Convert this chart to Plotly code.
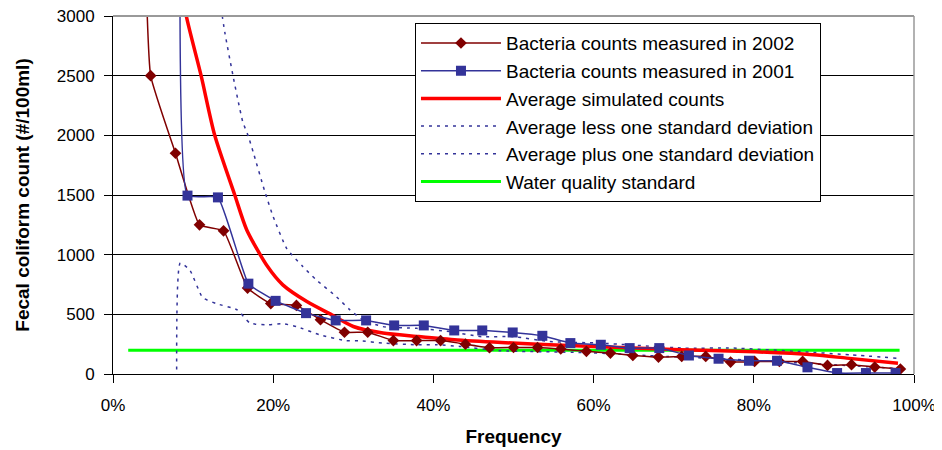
import plotly.graph_objects as go

# ---- data (frequency as fraction, counts in #/100ml) ----
x_2002 = [0.037, 0.047, 0.078, 0.108, 0.138, 0.168, 0.197, 0.229, 0.259, 0.289, 0.318,
          0.350, 0.379, 0.409, 0.440, 0.470, 0.500, 0.530, 0.559, 0.591, 0.621, 0.649,
          0.681, 0.710, 0.740, 0.771, 0.801, 0.832, 0.861, 0.892, 0.922, 0.951, 0.983]
y_2002 = [4500, 2500, 1850, 1250, 1200, 720, 590, 575, 455, 350, 350,
          280, 280, 280, 250, 220, 222, 222, 210, 190, 175, 155,
          142, 147, 147, 100, 105, 105, 105, 72, 78, 58, 42]

x_2001 = [0.085, 0.093, 0.131, 0.169, 0.203, 0.241, 0.278, 0.316, 0.351, 0.388, 0.426,
          0.461, 0.499, 0.536, 0.571, 0.609, 0.645, 0.682, 0.719, 0.756, 0.794, 0.829,
          0.867, 0.904, 0.940, 0.977]
y_2001 = [5000, 1495, 1480, 757, 613, 510, 449, 449, 407, 407, 365,
          365, 348, 320, 259, 245, 217, 217, 155, 128, 111, 111,
          56, 8, 8, 8]

x_avg = [0.080, 0.0915, 0.110, 0.127, 0.152, 0.167, 0.193, 0.212, 0.242, 0.273, 0.300,
         0.337, 0.379, 0.430, 0.545, 0.708, 0.791, 0.874, 0.916, 0.980]
y_avg = [3450, 3000, 2500, 2000, 1500, 1207, 900, 747, 607, 496, 398,
         343, 315, 285, 245, 203, 189, 161, 133, 90]

x_less = [0.080, 0.084, 0.096, 0.112, 0.129, 0.155, 0.171, 0.192, 0.212, 0.229, 0.258,
          0.291, 0.308, 0.337, 0.379, 0.404, 0.433, 0.483, 0.587, 0.691, 0.770, 0.850,
          0.920, 0.980]
y_less = [-500, 930, 870, 640, 590, 538, 427, 412, 421, 398, 329,
          279, 279, 259, 245, 245, 231, 195, 180, 147, 125, 95,
          70, 45]

x_plus = [0.132, 0.1395, 0.150, 0.156, 0.162, 0.169, 0.175, 0.189, 0.200, 0.217, 0.237,
          0.254, 0.279, 0.296, 0.312, 0.337, 0.379, 0.421, 0.460, 0.500, 0.545, 0.608,
          0.712, 0.774, 0.858, 0.920, 0.978]
y_plus = [3200, 2866, 2493, 2295, 2113, 1991, 1860, 1541, 1318, 1050, 900,
          788, 647, 536, 453, 397, 383, 355, 313, 313, 272, 259,
          217, 217, 188, 161, 133]

x_std = [0.019, 0.982]
y_std = [200, 200]

names = ["Bacteria counts measured in 2002",
         "Bacteria counts measured in 2001",
         "Average simulated counts",
         "Average less one standard deviation",
         "Average plus one standard deviation",
         "Water quality standard"]

FONT = "Arial, Liberation Sans, sans-serif"
DARKRED = "#800000"
NAVY = "#333399"

fig = go.Figure()

fig.add_trace(go.Scatter(x=x_std, y=y_std, name=names[5], mode="lines",
                         line=dict(color="#00FF00", width=3), legendrank=6))
fig.add_trace(go.Scatter(x=x_less, y=y_less, name=names[3], mode="lines",
                         line=dict(color=NAVY, width=1.5, dash="3px,5px", shape="spline", smoothing=0.5),
                         legendrank=4))
fig.add_trace(go.Scatter(x=x_plus, y=y_plus, name=names[4], mode="lines",
                         line=dict(color=NAVY, width=1.5, dash="3px,5px", shape="spline", smoothing=0.5),
                         legendrank=5))
fig.add_trace(go.Scatter(x=x_avg, y=y_avg, name=names[2], mode="lines",
                         line=dict(color="#FF0000", width=3.5, shape="spline", smoothing=0.7),
                         legendrank=3))
fig.add_trace(go.Scatter(x=x_2002, y=y_2002, name=names[0], mode="lines+markers",
                         line=dict(color=DARKRED, width=1.5, shape="spline", smoothing=0.35),
                         marker=dict(symbol="diamond", size=9, color=DARKRED),
                         legendrank=1))
fig.add_trace(go.Scatter(x=x_2001, y=y_2001, name=names[1], mode="lines+markers",
                         line=dict(color=NAVY, width=1.5, shape="spline", smoothing=0.35),
                         marker=dict(symbol="square", size=10, color=NAVY),
                         legendrank=2))

# the page body has an 8px default margin, so the figure is 8px smaller
# and its margins are reduced by 8px to keep the plot area in place
fig.update_layout(
    width=934, height=442,
    margin=dict(l=105, r=28, t=8, b=76),
    paper_bgcolor="white", plot_bgcolor="white",
    font=dict(family=FONT, color="black", size=17),
    showlegend=True,
    legend=dict(x=0.377, y=0.98, xanchor="left", yanchor="top",
                bgcolor="white", bordercolor="black", borderwidth=1,
                font=dict(family=FONT, size=19, color="black"),
                itemwidth=80, traceorder="normal"),
    xaxis=dict(range=[0, 1], dtick=0.2, tick0=0, tickformat=".0%",
               showgrid=False, zeroline=False, automargin=False,
               showline=True, linecolor="black", linewidth=1,
               ticks="outside", ticklen=8, tickcolor="black",
               tickfont=dict(size=17), ticklabelstandoff=8,
               ticklabeloverflow="allow",
               title=dict(text="<b>Frequency</b>", font=dict(size=19), standoff=15)),
    yaxis=dict(range=[0, 3000], dtick=500, tick0=0,
               showgrid=True, gridcolor="black", gridwidth=1, zeroline=False, automargin=False,
               showline=True, linecolor="black", linewidth=1,
               ticks="outside", ticklen=8, tickcolor="black",
               tickfont=dict(size=17), ticklabelstandoff=6,
               ticklabeloverflow="allow",
               title=dict(text="<b>Fecal coliform count (#/100ml)</b>", font=dict(size=19), standoff=22)),
    shapes=[
        dict(type="line", xref="paper", yref="paper", x0=0, x1=1, y0=1, y1=1,
             line=dict(color="#999999", width=2), layer="above"),
        dict(type="line", xref="paper", yref="paper", x0=1, x1=1, y0=0, y1=1,
             line=dict(color="#999999", width=1.5), layer="above"),
    ],
)

fig.write_html("out.html")
